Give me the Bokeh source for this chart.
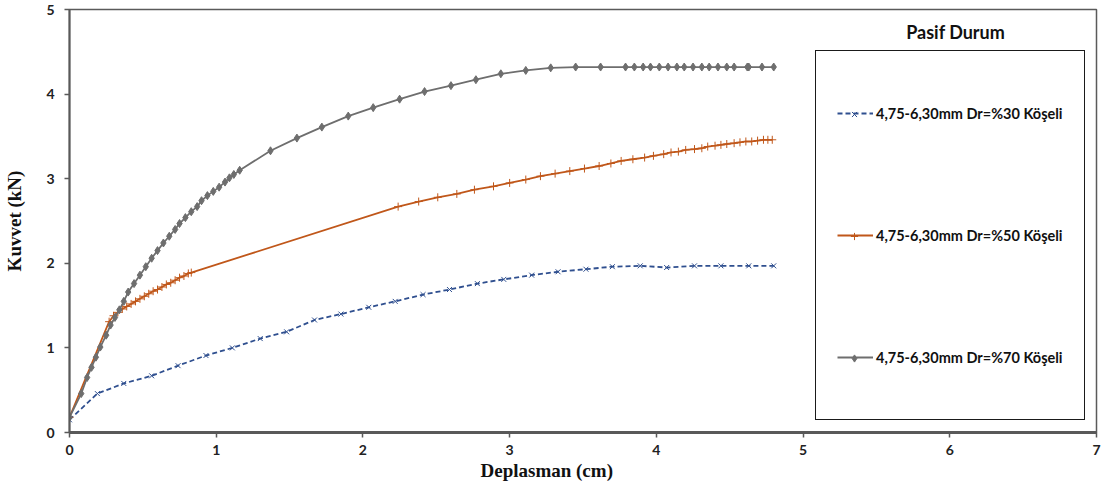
from bokeh.plotting import figure
from bokeh.models import Range1d, Legend, LegendItem, Label, FixedTicker, Title
from bokeh.embed import file_html
from bokeh.resources import INLINE

# Displacement (cm) and force (kN) readings, passive case
dr30_x = [0.00, 0.19, 0.37, 0.56, 0.74, 0.93, 1.11, 1.30, 1.48, 1.67, 1.85, 2.04, 2.22, 2.41,
          2.59, 2.78, 2.96, 3.15, 3.33, 3.52, 3.70, 3.89, 4.07, 4.26, 4.44, 4.63, 4.80]
dr30_y = [0.15, 0.46, 0.58, 0.67, 0.79, 0.91, 1.00, 1.11, 1.19, 1.33, 1.40, 1.48, 1.55, 1.63,
          1.69, 1.76, 1.81, 1.86, 1.90, 1.93, 1.96, 1.97, 1.95, 1.97, 1.97, 1.97, 1.97]

dr50_x = [0.00, 0.27, 0.30, 0.33, 0.36, 0.39, 0.42, 0.45, 0.48, 0.51, 0.54, 0.57, 0.60, 0.63,
          0.66, 0.69, 0.72, 0.75, 0.78, 0.81, 0.83, 2.24, 2.38, 2.51, 2.64, 2.76, 2.89, 3.00,
          3.11, 3.21, 3.31, 3.41, 3.51, 3.61, 3.69, 3.76, 3.84, 3.92, 3.98, 4.05, 4.10, 4.15,
          4.20, 4.26, 4.31, 4.35, 4.40, 4.44, 4.48, 4.53, 4.57, 4.61, 4.65, 4.69, 4.73, 4.76,
          4.79]
dr50_y = [0.18, 1.31, 1.38, 1.42, 1.46, 1.49, 1.52, 1.55, 1.58, 1.61, 1.64, 1.67, 1.69, 1.72,
          1.75, 1.77, 1.80, 1.83, 1.85, 1.88, 1.89, 2.67, 2.73, 2.78, 2.82, 2.87, 2.91, 2.95,
          2.99, 3.03, 3.06, 3.09, 3.12, 3.15, 3.18, 3.21, 3.23, 3.25, 3.27, 3.29, 3.31, 3.32,
          3.34, 3.35, 3.36, 3.38, 3.39, 3.40, 3.41, 3.42, 3.43, 3.44, 3.44, 3.45, 3.46, 3.46,
          3.46]

dr70_x = [0.00, 0.08, 0.12, 0.15, 0.18, 0.21, 0.25, 0.28, 0.31, 0.34, 0.37, 0.40, 0.44, 0.48,
          0.52, 0.56, 0.60, 0.64, 0.68, 0.72, 0.75, 0.79, 0.83, 0.87, 0.90, 0.94, 0.98, 1.02,
          1.06, 1.09, 1.12, 1.16, 1.37, 1.55, 1.72, 1.90, 2.07, 2.25, 2.42, 2.60, 2.77, 2.94,
          3.11, 3.28, 3.45, 3.62, 3.79, 3.85, 3.91, 3.96, 4.02, 4.08, 4.14, 4.19, 4.25, 4.31,
          4.36, 4.42, 4.48, 4.53, 4.62, 4.63, 4.72, 4.80]
dr70_y = [0.18, 0.46, 0.65, 0.77, 0.89, 1.01, 1.15, 1.27, 1.36, 1.45, 1.55, 1.66, 1.76, 1.86,
          1.96, 2.06, 2.15, 2.24, 2.32, 2.40, 2.47, 2.54, 2.61, 2.67, 2.74, 2.80, 2.85, 2.90,
          2.96, 3.01, 3.05, 3.10, 3.33, 3.48, 3.61, 3.74, 3.84, 3.94, 4.03, 4.10, 4.17, 4.24,
          4.28, 4.31, 4.32, 4.32, 4.32, 4.32, 4.32, 4.32, 4.32, 4.32, 4.32, 4.32, 4.32, 4.32,
          4.32, 4.32, 4.32, 4.32, 4.32, 4.32, 4.32, 4.32]

series_names = ["4,75-6,30mm Dr=%30 Köşeli",
                "4,75-6,30mm Dr=%50 Köşeli",
                "4,75-6,30mm Dr=%70 Köşeli"]
x_ticks = [0, 1, 2, 3, 4, 5, 6, 7]
y_ticks = [0, 1, 2, 3, 4, 5]

BLUE = "#2F4F8F"
ORANGE = "#C0571A"
GREY = "#6E6E6E"
AXIS = "#595959"

p = figure(width=1105, height=488, output_backend="svg", toolbar_location=None,
           x_range=Range1d(0, 7), y_range=Range1d(0, 5),
           min_border_left=69, min_border_right=9, min_border_top=9, min_border_bottom=56)
p.background_fill_color = "white"
p.border_fill_color = "white"
p.outline_line_color = "#5a5a5a"
p.outline_line_width = 1.5
p.xgrid.visible = False
p.ygrid.visible = False

for ax, ticks in ((p.xaxis, x_ticks), (p.yaxis, y_ticks)):
    ax.ticker = FixedTicker(ticks=ticks)
    ax.minor_tick_line_color = None
    ax.major_tick_in = 0
    ax.major_tick_out = 5
    ax.major_tick_line_color = AXIS
    ax.major_tick_line_width = 1.5
    ax.axis_line_color = AXIS
    ax.major_label_text_font = "Lato"
    ax.major_label_text_font_style = "bold"
    ax.major_label_text_font_size = "14px"
    ax.major_label_text_color = "#222222"

p.xaxis.axis_line_width = 3
p.yaxis.axis_line_width = 2
p.xaxis.major_label_standoff = 7
p.yaxis.major_label_standoff = 10

p.yaxis.axis_label = "Kuvvet (kN)"
p.yaxis.axis_label_text_font = "Liberation Serif"
p.yaxis.axis_label_text_font_style = "bold"
p.yaxis.axis_label_text_font_size = "19px"
p.yaxis.axis_label_text_color = "#111111"
p.yaxis.axis_label_standoff = 18

# x-axis title, set a little left of the frame centre
p.add_layout(Title(text="Deplasman (cm)", align="left", offset=411, standoff=0,
                   text_font="Liberation Serif", text_font_style="bold",
                   text_font_size="19px", text_color="#111111"), "below")

# Force-displacement curves
l30 = p.line(dr30_x, dr30_y, line_color=BLUE, line_width=1.8, line_dash="5 3")
m30 = p.scatter(dr30_x, dr30_y, marker="x", size=7, line_color=BLUE, line_width=1)

l50 = p.line(dr50_x, dr50_y, line_color=ORANGE, line_width=1.8)
m50 = p.scatter(dr50_x, dr50_y, marker="cross", size=8, line_color=ORANGE, line_width=1)

l70 = p.line(dr70_x, dr70_y, line_color=GREY, line_width=1.8)
m70 = p.scatter(dr70_x, dr70_y, marker="diamond", size=8, line_color=GREY,
                fill_color=GREY, line_width=1)


def style_legend(lg, glyph_w, pad):
    lg.glyph_width = glyph_w
    lg.glyph_height = 82
    lg.label_height = 20
    lg.spacing = 40
    lg.padding = pad
    lg.margin = 0
    lg.label_standoff = 3
    lg.label_text_font = "Lato"
    lg.label_text_font_style = "bold"
    lg.label_text_font_size = "14.5px"
    lg.label_text_color = "#111111"


# Legend: line samples with labels inside a framed box
legend = Legend(items=[LegendItem(label=series_names[0], renderers=[l30]),
                       LegendItem(label=series_names[1], renderers=[l50]),
                       LegendItem(label=series_names[2], renderers=[l70])],
                location=(746, 12))
style_legend(legend, 36, 21)
legend.border_line_color = "#1a1a1a"
legend.border_line_alpha = 1
legend.border_line_width = 1.5
legend.background_fill_alpha = 1
p.add_layout(legend, "center")

# Second, transparent legend that puts small markers on the middle of the line samples
marks = Legend(items=[LegendItem(label=" ", renderers=[m30]),
                      LegendItem(label=" ", renderers=[m50]),
                      LegendItem(label=" ", renderers=[m70])],
               location=(755, 12))
style_legend(marks, 18, 21)
marks.border_line_color = "white"
marks.border_line_alpha = 0
marks.background_fill_alpha = 0
p.add_layout(marks, "center")

p.add_layout(Label(x=6.04, y=4.73, text="Pasif Durum", text_align="center",
                   text_baseline="middle", text_font="Lato", text_font_style="bold",
                   text_font_size="18px", text_color="#111111"))

open("out.html", "w").write(file_html(p, INLINE))
